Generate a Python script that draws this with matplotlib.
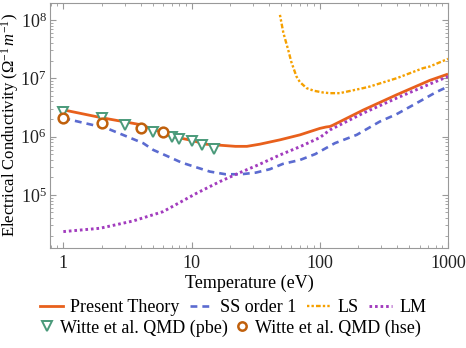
import matplotlib
matplotlib.use("Agg")
import matplotlib.pyplot as plt
from matplotlib.lines import Line2D
from matplotlib.ticker import LogLocator, NullFormatter

plt.rcParams['font.family'] = ['Liberation Serif', 'DejaVu Serif']
plt.rcParams['mathtext.fontset'] = 'custom'
plt.rcParams['mathtext.rm'] = 'Liberation Serif'
plt.rcParams['mathtext.it'] = 'Liberation Serif:italic'

# Present Theory
pt_T = [1, 2, 4, 7.2, 10, 13, 22, 27, 34, 49, 70, 100, 112, 120, 126, 218, 397, 721, 1000]
pt_s = [2.87e6, 2.1e6, 1.6e6, 1.0e6, 8.6e5, 7.4e5, 6.8e5, 6.8e5, 7.4e5, 8.8e5, 1.07e6,
        1.38e6, 1.46e6, 1.49e6, 1.56e6, 2.85e6, 5.2e6, 9.2e6, 1.18e7]

# SS order 1
ss_T = [1, 2.18, 4.2, 5.03, 6.4, 8.37, 10.8, 13.9, 18.4, 24.3, 31.7, 40.8, 51.5, 70, 92,
        131, 194, 294, 397, 568, 808, 1000]
ss_s = [2.07e6, 1.39e6, 7.7e5, 5.9e5, 4.67e5, 3.58e5, 2.99e5, 2.51e5, 2.26e5, 2.26e5, 2.41e5,
        2.76e5, 3.4e5, 3.97e5, 5.0e5, 7.7e5, 1.07e6, 1.81e6, 2.42e6, 3.74e6, 5.78e6, 7.2e6]

# LS
ls_T = [48.9, 52, 56.7, 60, 65.8, 70, 78.9, 90, 106, 120, 143, 218, 245, 397, 640, 721, 1000]
ls_s = [1.22e8, 6.0e7, 3.07e7, 1.9e7, 1.07e7, 8.6e6, 6.77e6, 6.1e6, 5.7e6, 5.55e6, 5.55e6,
        6.77e6, 7.2e6, 1.0e7, 1.49e7, 1.59e7, 2.15e7]

# LM
lm_T = [1, 1.93, 3.51, 6.0, 10.96, 16.6, 23.8, 33.1, 49, 70, 100, 120, 218, 397, 721, 1000]
lm_s = [2.35e4, 2.68e4, 3.58e4, 5.17e4, 1.07e5, 1.69e5, 2.41e5, 3.27e5, 4.85e5, 6.7e5,
        9.6e5, 1.3e6, 2.52e6, 4.56e6, 7.95e6, 1.07e7]

# Witte et al. QMD
pbe_T = [1, 2, 3, 5, 7, 8, 10, 12, 15]
pbe_s = [2.6e6, 2.07e6, 1.58e6, 1.22e6, 1.0e6, 9.06e5, 8.3e5, 7.2e5, 6.2e5]
hse_T = [1, 2, 4, 6]
hse_s = [2.12e6, 1.74e6, 1.39e6, 1.19e6]

c_pt = '#e8601c'
c_ss = '#5b6bd0'
c_ls = '#f5a000'
c_lm = '#a23cbe'
c_pbe = '#4a9a7a'
c_hse = '#c0600c'

FS = 13

fig = plt.figure(figsize=(4.66, 3.48), dpi=100)
ax = fig.add_axes([50 / 466, 100 / 348, 398 / 466, 245 / 348])

ax.plot(pt_T, pt_s, color=c_pt, lw=2.0, solid_capstyle='butt')
ax.plot(ss_T, ss_s, color=c_ss, lw=1.9, dashes=(2.6, 1.9))
ax.plot(ls_T, ls_s, color=c_ls, lw=1.7, dashes=(1.0, 0.9, 1.0, 0.9, 2.0, 0.9))
ax.plot(lm_T, lm_s, color=c_lm, lw=2.1, dashes=(0.9, 1.0), dash_capstyle='butt')
ax.plot(pbe_T, pbe_s, ls='none', marker='v', ms=7.5, mew=1.4, mfc='white', mec=c_pbe)
ax.plot(hse_T, hse_s, ls='none', marker='o', ms=7, mew=1.8, mfc='white', mec=c_hse)

ax.set_xscale('log')
ax.set_yscale('log')
ax.set_xlim(0.787, 1000)
ax.set_ylim(1.23e4, 1.95e8)
ax.set_xticks([1, 10, 100, 1000])
ax.set_xticklabels(['1', '10', '100', '1000'])
ax.xaxis.set_minor_locator(LogLocator(base=10, subs=range(2, 10)))
ax.xaxis.set_minor_formatter(NullFormatter())
ax.yaxis.set_major_locator(LogLocator(base=10, numticks=10))
ax.yaxis.set_minor_locator(LogLocator(base=10, subs=range(2, 10), numticks=20))
ax.yaxis.set_minor_formatter(NullFormatter())

ax.tick_params(which='both', direction='in', top=True, right=True, color='#999999',
               labelsize=FS, labelcolor='#222222')
ax.tick_params(which='major', length=4, width=0.8)
ax.tick_params(axis='x', which='major', pad=5)
ax.tick_params(axis='y', which='major', pad=2.5)
ax.tick_params(which='minor', length=2, width=0.6)
for sp in ax.spines.values():
    sp.set_color('#999999')

ax.set_xlabel('Temperature (eV)', fontsize=FS, labelpad=2)
ax.set_ylabel(r'Electrical Conductivity ($\Omega^{-1}\,m^{-1}$)', fontsize=12)
ax.yaxis.set_label_coords(-0.073, 0.5)

h1 = [Line2D([], [], color=c_pt, lw=2.0),
      Line2D([], [], color=c_ss, lw=1.9, dashes=(2.6, 1.9)),
      Line2D([], [], color=c_ls, lw=1.7, dashes=(1.0, 0.9, 1.0, 0.9, 2.0, 0.9)),
      Line2D([], [], color=c_lm, lw=2.1, dashes=(0.9, 1.0))]
leg1 = fig.legend(h1, ['Present Theory', 'SS order 1', 'LS', 'LM'], ncol=4,
                  loc='center', bbox_to_anchor=(233 / 466, 1 - 308 / 348),
                  frameon=False, fontsize=FS, handlelength=1.3, handletextpad=0.4,
                  columnspacing=0.55, borderpad=0)
h2 = [Line2D([], [], ls='none', marker='v', ms=7.5, mew=1.4, mfc='white', mec=c_pbe),
      Line2D([], [], ls='none', marker='o', ms=6, mew=1.8, mfc='white', mec=c_hse)]
leg2 = fig.legend(h2, ['Witte et al. QMD (pbe)', 'Witte et al. QMD (hse)'], ncol=2,
                  loc='center', bbox_to_anchor=(231 / 466, 1 - 328 / 348),
                  frameon=False, fontsize=FS, handlelength=0.6, handletextpad=0.4,
                  columnspacing=0.5, borderpad=0)

fig.savefig('out.png', dpi=100)
